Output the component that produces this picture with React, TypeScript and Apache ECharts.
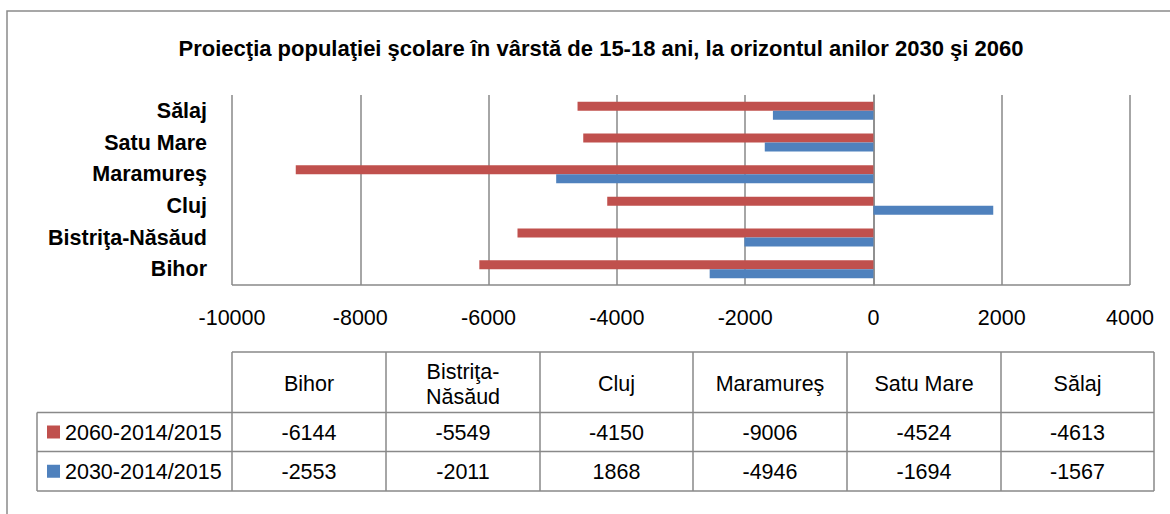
import React, { useEffect, useRef } from "react";
import * as echarts from "echarts";

const title =
  "Proiecţia populaţiei şcolare în vârstă de 15-18 ani, la orizontul anilor 2030 şi 2060";
const categories = ["Bihor", "Bistriţa-Năsăud", "Cluj", "Maramureş", "Satu Mare", "Sălaj"];
const tableHeaders = ["Bihor", "Bistriţa-\nNăsăud", "Cluj", "Maramureş", "Satu Mare", "Sălaj"];
const seriesNames = ["2060-2014/2015", "2030-2014/2015"];
const values2060 = [-6144, -5549, -4150, -9006, -4524, -4613];
const values2030 = [-2553, -2011, 1868, -4946, -1694, -1567];
const seriesColors = ["#C0504D", "#4F81BD"];
const xMin = -10000;
const xMax = 4000;
const xInterval = 2000;

const FONT = '"Liberation Sans", Arial, sans-serif';
const FS = 21.5;
const LINE = "#898989";

export default function App() {
  const ref = useRef<HTMLDivElement>(null);
  useEffect(() => {
    if (!ref.current) return;
    const chart = echarts.init(ref.current, null, { renderer: "svg" });

    const tLeft = 37;
    const colX = [232, 386, 540, 693, 847, 1001, 1154];
    const rowY = [352, 412.5, 451.5, 491];
    const graphics: any[] = [];
    graphics.push({
      type: "rect",
      shape: { x: 7, y: 11, width: 1300, height: 700 },
      style: { fill: "none", stroke: "#8a8a8a", lineWidth: 1.5 },
      silent: true,
    });
    const hline = (x1: number, x2: number, y: number) =>
      graphics.push({
        type: "line",
        shape: { x1, y1: y, x2, y2: y },
        style: { stroke: LINE, lineWidth: 1.5 },
      });
    const vline = (x: number, y1: number, y2: number) =>
      graphics.push({
        type: "line",
        shape: { x1: x, y1, x2: x, y2 },
        style: { stroke: LINE, lineWidth: 1.5 },
      });
    // bottom axis line of the plot
    hline(232, 1130, 285);
    // table grid
    hline(colX[0], colX[colX.length - 1], rowY[0]);
    hline(tLeft, colX[colX.length - 1], rowY[1]);
    hline(tLeft, colX[colX.length - 1], rowY[2]);
    hline(tLeft, colX[colX.length - 1], rowY[3]);
    vline(tLeft, rowY[1], rowY[3]);
    colX.forEach((x) => vline(x, rowY[0], rowY[3]));

    tableHeaders.forEach((h, i) => {
      graphics.push({
        type: "text",
        x: (colX[i] + colX[i + 1]) / 2,
        y: (rowY[0] + rowY[1]) / 2 + 2,
        style: {
          text: h,
          fontFamily: FONT,
          fontSize: FS,
          fill: "#000",
          align: "center",
          verticalAlign: "middle",
          lineHeight: 25,
        },
      });
    });
    const rows = [values2060, values2030];
    rows.forEach((vals, r) => {
      const cy = (rowY[r + 1] + rowY[r + 2]) / 2;
      graphics.push({
        type: "rect",
        shape: { x: 47, y: cy - 6.5, width: 13, height: 13 },
        style: { fill: seriesColors[r] },
      });
      graphics.push({
        type: "text",
        x: 65,
        y: cy + 1,
        style: {
          text: seriesNames[r],
          fontFamily: FONT,
          fontSize: FS,
          fill: "#000",
          align: "left",
          verticalAlign: "middle",
        },
      });
      vals.forEach((v, i) => {
        graphics.push({
          type: "text",
          x: (colX[i] + colX[i + 1]) / 2,
          y: cy + 1,
          style: {
            text: String(v),
            fontFamily: FONT,
            fontSize: FS,
            fill: "#000",
            align: "center",
            verticalAlign: "middle",
          },
        });
      });
    });

    chart.setOption({
      animation: false,
      backgroundColor: "#fff",
      title: {
        text: title,
        left: 596,
        top: 32,
        textAlign: "center",
        textStyle: { fontFamily: FONT, fontSize: 22, fontWeight: "bold", color: "#000" },
      },
      grid: { left: 232, right: 40, top: 95, bottom: 229, containLabel: false },
      xAxis: {
        type: "value",
        min: xMin,
        max: xMax,
        interval: xInterval,
        axisLine: { show: false },
        axisTick: { show: false },
        splitLine: { show: true, lineStyle: { color: LINE, width: 1.5 } },
        axisLabel: {
          fontFamily: FONT,
          fontSize: FS,
          color: "#000",
          margin: 22,
          formatter: (v: number) => String(v),
        },
      },
      yAxis: {
        type: "category",
        data: categories,
        axisLine: { show: true, lineStyle: { color: LINE, width: 1.5 } },
        axisTick: { show: false },
        axisLabel: {
          interval: 0,
          fontFamily: FONT,
          fontSize: FS,
          fontWeight: "bold",
          color: "#000",
          margin: 25,
        },
      },
      series: [
        {
          name: seriesNames[0],
          type: "bar",
          data: values2060,
          itemStyle: { color: seriesColors[0] },
          barGap: "0%",
          barCategoryGap: "43%",
        },
        {
          name: seriesNames[1],
          type: "bar",
          data: values2030,
          itemStyle: { color: seriesColors[1] },
          barGap: "0%",
          barCategoryGap: "43%",
        },
      ],
      graphic: graphics,
    });
    return () => chart.dispose();
  }, []);
  return (
    <div
      ref={ref}
      style={{ position: "fixed", left: 0, top: 0, width: 1170, height: 514, background: "#fff" }}
    />
  );
}
